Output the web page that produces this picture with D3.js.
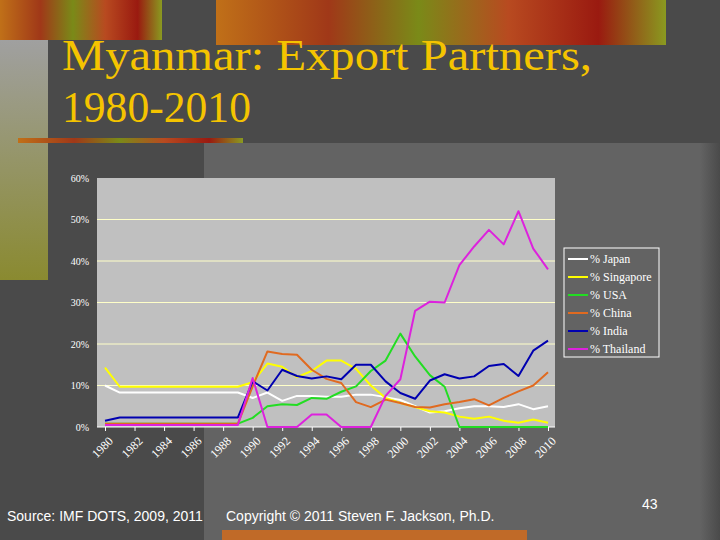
<!DOCTYPE html>
<html><head><meta charset="utf-8">
<script src="https://cdn.jsdelivr.net/npm/d3@7"></script>
<style>body{margin:0;background:#4a4a4a}svg{display:block}</style>
</head><body><svg id="c" width="720" height="540"></svg>
<script>
const years = d3.range(1980, 2011);
const yTicks = [0, 10, 20, 30, 40, 50, 60];
const xLabels = d3.range(1980, 2011, 2);
const partners = ["% Japan", "% Singapore", "% USA", "% China", "% India", "% Thailand"];
const colors = ["#ffffff", "#ffff00", "#22dd22", "#e06a20", "#0000b0", "#dd22dd"];

const japan = [10, 8.3, 8.3, 8.3, 8.3, 8.3, 8.3, 8.3, 8.3, 8.3, 7, 8.3, 6.3, 7.5, 7.5, 7.3, 7.3, 7.8, 7.8, 7.2, 6.5, 5, 3.5, 3.8, 4.5, 5, 5, 4.8, 5.5, 4.3, 5];
const singapore = [14.3, 9.7, 9.7, 9.7, 9.7, 9.7, 9.7, 9.7, 9.7, 9.7, 10.8, 15.3, 14.5, 12, 13.5, 16, 16, 14, 10, 7, 5.8, 4.8, 3.8, 3.5, 2.5, 2, 2.5, 1.5, 1, 1.8, 1];
const usa = [0.8, 0.8, 0.8, 0.8, 0.8, 0.8, 0.8, 0.8, 0.8, 0.8, 2.2, 5, 5.5, 5.3, 7, 6.8, 8.5, 9.8, 13.5, 16, 22.5, 17, 12.5, 9.7, 0, 0, 0, 0, 0, 0, 0];
const china = [0.8, 0.8, 0.8, 0.8, 0.8, 0.8, 0.8, 0.8, 0.8, 0.8, 9.8, 18.2, 17.6, 17.4, 13.8, 11.6, 10.6, 6, 4.8, 6.6, 5.8, 4.8, 4.7, 5.5, 6, 6.7, 5.2, 7, 8.6, 10, 13.2];
const india = [1.5, 2.3, 2.3, 2.3, 2.3, 2.3, 2.3, 2.3, 2.3, 2.3, 11, 8.8, 13.8, 12.3, 11.7, 12.2, 11.5, 15, 15, 11, 8.2, 6.8, 11.2, 12.7, 11.7, 12.2, 14.7, 15.2, 12.3, 18.4, 20.8];
const thailand = [0.5, 0.5, 0.5, 0.5, 0.5, 0.5, 0.5, 0.5, 0.5, 0.5, 11.8, 0, 0, 0, 3, 3, 0, 0, 0, 7.5, 11.5, 28, 30.2, 30, 39, 43.5, 47.5, 44, 52, 43, 38];
const series = [japan, singapore, usa, china, india, thailand];

const svg = d3.select("#c");
const defs = svg.append("defs");
const g1 = defs.append("linearGradient").attr("id", "ban").attr("x1", 0).attr("x2", 1);
[["#c07018", 0], ["#a03818", 0.25], ["#7a8a18", 0.45], ["#b84a20", 0.65], ["#9a1a10", 0.85], ["#8a9a20", 1]]
  .forEach(([c, o]) => g1.append("stop").attr("offset", o).attr("stop-color", c));
const g2 = defs.append("linearGradient").attr("id", "side").attr("x1", 0).attr("x2", 0).attr("y1", 0).attr("y2", 1);
g2.append("stop").attr("offset", 0).attr("stop-color", "#a0a0a0");
g2.append("stop").attr("offset", 1).attr("stop-color", "#8a8a30");
const g3 = defs.append("linearGradient").attr("id", "fade").attr("x1", 0).attr("x2", 1);
g3.append("stop").attr("offset", 0).attr("stop-color", "#636363");
g3.append("stop").attr("offset", 1).attr("stop-color", "#4a4a4a");

// backdrop
svg.append("rect").attr("width", 720).attr("height", 540).attr("fill", "#4a4a4a");
svg.append("rect").attr("x", 0).attr("y", 40).attr("width", 48).attr("height", 240).attr("fill", "url(#side)");
svg.append("rect").attr("x", 0).attr("y", 0).attr("width", 162).attr("height", 40).attr("fill", "url(#ban)");
svg.append("rect").attr("x", 216).attr("y", 0).attr("width", 450).attr("height", 45).attr("fill", "url(#ban)");
svg.append("rect").attr("x", 18).attr("y", 138).attr("width", 225).attr("height", 5).attr("fill", "url(#ban)");
svg.append("rect").attr("x", 204).attr("y", 143).attr("width", 496).attr("height", 397).attr("fill", "#636363");
svg.append("rect").attr("x", 700).attr("y", 143).attr("width", 20).attr("height", 397).attr("fill", "url(#fade)");
svg.append("rect").attr("x", 222).attr("y", 530).attr("width", 305).attr("height", 10).attr("fill", "#c06a28");

svg.selectAll("text.title").data([["Myanmar: Export Partners,", 530], ["1980-2010", 189]]).join("text")
  .attr("x", 62).attr("y", (d, i) => 70 + i * 52)
  .attr("font-family", "Liberation Serif, serif").attr("font-size", 45).attr("fill", "#f5c400")
  .attr("textLength", d => d[1]).attr("lengthAdjust", "spacingAndGlyphs")
  .text(d => d[0]);

// plot
const L = 97, R = 555, T = 178, B = 427;
const x = d3.scaleLinear().domain([1980, 2010]).range([105, 548]);
const y = d3.scaleLinear().domain([0, 60]).range([B, T]);
svg.append("rect").attr("x", L).attr("y", T).attr("width", R - L).attr("height", B - T).attr("fill", "#c0c0c0");
svg.append("g").selectAll("line").data(yTicks.slice(1, -1)).join("line")
  .attr("x1", L).attr("x2", R).attr("y1", d => y(d)).attr("y2", d => y(d))
  .attr("stroke", "#ffffc8").attr("stroke-width", 1);

const yAxis = svg.append("g").attr("transform", `translate(${L},0)`)
  .call(d3.axisLeft(y).tickValues(yTicks).tickSize(0).tickPadding(8).tickFormat(d => d + "%"));
yAxis.select(".domain").remove();
yAxis.selectAll("text").attr("fill", "#fff").attr("font-family", "Liberation Serif, serif").attr("font-size", 10);

const xAxis = svg.append("g").attr("transform", `translate(0,${B})`)
  .call(d3.axisBottom(x).tickValues(xLabels).tickSize(4).tickFormat(d3.format("d")));
xAxis.select(".domain").attr("stroke", "#fff").attr("d", `M${L},0H${R}`);
xAxis.selectAll("line").attr("stroke", "#fff");
xAxis.selectAll("text").attr("fill", "#fff").attr("font-family", "Liberation Serif, serif").attr("font-size", 12)
  .attr("text-anchor", "end").attr("transform", "translate(0,3) rotate(-45)").attr("dx", "-0.2em").attr("dy", "0.6em");

const line = d3.line().x((d, i) => x(years[i])).y(d => y(d));
svg.append("g").selectAll("path").data(series).join("path")
  .attr("d", line).attr("fill", "none").attr("stroke", (d, i) => colors[i]).attr("stroke-width", 2)
  .attr("stroke-linejoin", "round");

// legend
const lg = svg.append("g").attr("transform", "translate(564,248)");
lg.append("rect").attr("width", 95).attr("height", 109).attr("fill", "none").attr("stroke", "#fff");
const it = lg.selectAll("g").data(partners).join("g").attr("transform", (d, i) => `translate(4,${11 + i * 18})`);
it.append("line").attr("x1", 0).attr("x2", 20).attr("stroke", (d, i) => colors[i]).attr("stroke-width", 2);
it.append("text").attr("x", 22).attr("dy", "0.35em").attr("fill", "#fff")
  .attr("font-family", "Liberation Serif, serif").attr("font-size", 12).text(d => d);

// footer
svg.append("text").attr("x", 7).attr("y", 521).attr("fill", "#fff").attr("font-family", "Liberation Sans, Arial, sans-serif")
  .attr("font-size", 14).text("Source: IMF DOTS, 2009, 2011");
svg.append("text").attr("x", 226).attr("y", 521).attr("fill", "#fff").attr("font-family", "Liberation Sans, Arial, sans-serif")
  .attr("font-size", 14).text("Copyright © 2011 Steven F. Jackson, Ph.D.");
svg.append("text").attr("x", 642).attr("y", 509).attr("fill", "#fff").attr("font-family", "Liberation Sans, Arial, sans-serif")
  .attr("font-size", 14).text("43");
</script></body></html>
